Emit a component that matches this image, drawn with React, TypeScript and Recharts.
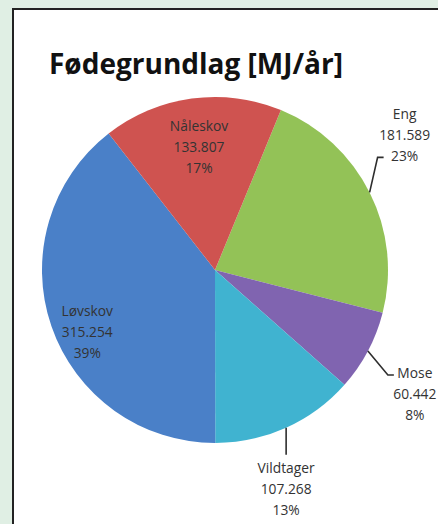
import { PieChart, Pie, Cell } from "recharts";

const categories = ["Eng", "Mose", "Vildtager", "Løvskov", "Nåleskov"];
const values = [181589, 60442, 107268, 315254, 133807];
const COLORS = ["#93c257", "#8064b0", "#40b3d0", "#4a80c8", "#cf5350"];

const title = "Fødegrundlag [MJ/år]";

// where each label goes, relative to its slice
type Place =
  | { kind: "inside"; r: number; shift: number }
  | { kind: "outside"; elbow: [number, number]; tick: number; textDx: number; firstDy: number };

const PLACES: Place[] = [
  { kind: "outside", elbow: [8, -35], tick: 6, textDx: 21, firstDy: -44 },
  { kind: "outside", elbow: [20, 24], tick: 6, textDx: 21, firstDy: -2 },
  { kind: "outside", elbow: [0, 27], tick: 0, textDx: 0, firstDy: 13 },
  { kind: "inside", r: 0.82, shift: 6.8 },
  { kind: "inside", r: 0.72, shift: -0.4 },
];

const data = categories.map((name, i) => ({ name, value: values[i] }));

const RAD = Math.PI / 180;
const LINE = 21;

function fmt(v: number) {
  return String(v).replace(/\B(?=(\d{3})+(?!\d))/g, ".");
}

function renderLabel(props: any) {
  const { cx, cy, midAngle, outerRadius, percent, index, name, value } = props;
  const p = PLACES[index];
  const lines = [name, fmt(value), Math.round(percent * 100) + "%"];
  const textStyle = { fontFamily: "Open Sans", fontSize: 13.8, fill: "#333333" };

  if (p.kind === "inside") {
    const a = (midAngle + p.shift) * RAD;
    const x = cx + Math.cos(-a) * outerRadius * p.r;
    const y = cy + Math.sin(-a) * outerRadius * p.r;
    return (
      <g key={"l" + index}>
        {lines.map((t, k) => (
          <text key={k} x={x} y={y + (k - 1) * LINE} textAnchor="middle" dominantBaseline="central" style={textStyle}>
            {t}
          </text>
        ))}
      </g>
    );
  }

  const a = midAngle * RAD;
  const ex = cx + Math.cos(-a) * outerRadius;
  const ey = cy + Math.sin(-a) * outerRadius;
  const bx = ex + p.elbow[0];
  const by = ey + p.elbow[1];
  const tx = bx + p.tick;
  const textX = tx + p.textDx;
  return (
    <g key={"l" + index}>
      <polyline points={`${ex},${ey} ${bx},${by} ${tx},${by}`} fill="none" stroke="#2e2e2e" strokeWidth={1.6} />
      {lines.map((t, k) => (
        <text key={k} x={textX} y={by + p.firstDy + k * LINE} textAnchor="middle" dominantBaseline="central" style={textStyle}>
          {t}
        </text>
      ))}
    </g>
  );
}

export default function App() {
  return (
    <div style={{ position: "absolute", left: 0, top: 0, width: 438, height: 524, background: "#e0efe4", overflow: "hidden" }}>
      <div
        style={{
          position: "absolute",
          left: 12,
          top: 8,
          width: 440,
          height: 530,
          background: "#ffffff",
          border: "2px solid #222222",
        }}
      />
      <div
        style={{
          position: "absolute",
          left: 49,
          top: 43,
          fontFamily: "Open Sans",
          fontWeight: 700,
          fontSize: 28,
          color: "#111",
          lineHeight: "40px",
          whiteSpace: "nowrap",
        }}
      >
        {title}
      </div>
      <div style={{ position: "absolute", left: 0, top: 0 }}>
        <PieChart width={438} height={524}>
          <Pie
            data={data}
            dataKey="value"
            nameKey="name"
            cx={210}
            cy={265}
            outerRadius={173}
            startAngle={67.6}
            endAngle={-292.4}
            stroke="none"
            label={renderLabel}
            labelLine={false}
            isAnimationActive={false}
          >
            {data.map((_, index) => (
              <Cell key={index} fill={COLORS[index]} />
            ))}
          </Pie>
        </PieChart>
      </div>
    </div>
  );
}
